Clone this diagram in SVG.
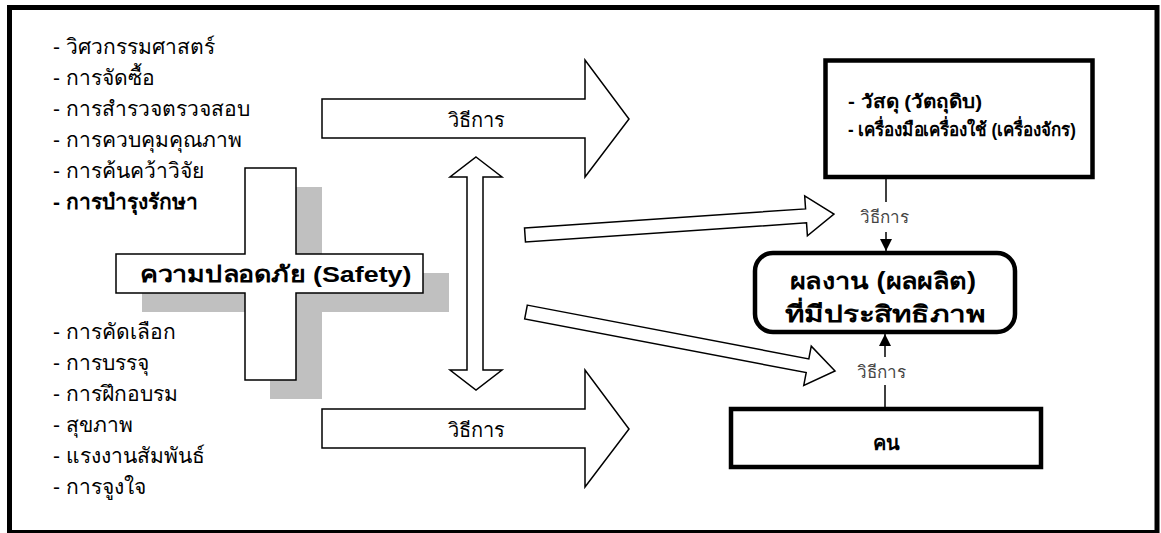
<svg xmlns="http://www.w3.org/2000/svg" width="1161" height="533" viewBox="0 0 1161 533">
<defs>
<style>
.list{font-family:"Liberation Sans","Noto Sans",sans-serif;font-size:21px;fill:#000}
.b{font-weight:bold}
.shape{fill:#fff;stroke:#000;stroke-width:1.5}
.shadow{fill:#c0c0c0;stroke:none}
.lbl{font-family:"Liberation Sans","Noto Sans",sans-serif;font-size:20px;fill:#000;text-anchor:middle}
.small{font-family:"Liberation Sans","Noto Sans",sans-serif;font-size:17px;fill:#444;text-anchor:middle}
.box{fill:#fff;stroke:#000;stroke-width:4.5}
.boxt{font-family:"Liberation Sans","Noto Sans",sans-serif;font-size:19px;font-weight:bold;fill:#000}
.big{font-family:"Liberation Sans","Noto Sans",sans-serif;font-weight:bold;fill:#000;text-anchor:middle}
.conn{stroke:#000;stroke-width:1.5;fill:none}
</style>
<marker id="ah" viewBox="0 0 12 12" refX="12" refY="6" markerWidth="12" markerHeight="12" markerUnits="userSpaceOnUse" orient="auto">
<path d="M0,0 L12,6 L0,12 Z" fill="#000"/>
</marker>
</defs>
<rect x="0" y="0" width="1161" height="533" fill="#fff"/>
<rect x="9.5" y="7.5" width="1147.5" height="525" fill="none" stroke="#000" stroke-width="5"/>

<g id="list-top" class="list">
<text x="53" y="54">- วิศวกรรมศาสตร์</text>
<text x="53" y="85">- การจัดซื้อ</text>
<text x="53" y="116">- การสำรวจตรวจสอบ</text>
<text x="53" y="147">- การควบคุมคุณภาพ</text>
<text x="53" y="178">- การค้นคว้าวิจัย</text>
<text x="53" y="209" class="b">- การบำรุงรักษา</text>
</g>
<g id="list-bottom" class="list">
<text x="53" y="339">- การคัดเลือก</text>
<text x="53" y="370">- การบรรจุ</text>
<text x="53" y="401">- การฝึกอบรม</text>
<text x="53" y="432">- สุขภาพ</text>
<text x="53" y="463">- แรงงานสัมพันธ์</text>
<text x="53" y="494">- การจูงใจ</text>
</g>

<g id="safety-cross">
<path class="shadow" d="M270,187 H322 V273 H449 V312 H322 V399 H270 V312 H142 V273 H270 Z"/>
<path class="shape" d="M245,168 H296 V254 H423 V293 H296 V380 H245 V293 H116 V254 H245 Z"/>
<text class="big" x="275.5" y="282" font-size="22" textLength="272" lengthAdjust="spacingAndGlyphs">ความปลอดภัย (Safety)</text>
</g>

<g id="arrow-top-method">
<path class="shape" d="M322,99 H585 V60 L629,119 L585,177 V138 H322 Z"/>
<text class="lbl" x="476" y="127">วิธีการ</text>
</g>
<g id="arrow-bottom-method">
<path class="shape" d="M322,409 H585 V370 L629,429 L585,487 V448 H322 Z"/>
<text class="lbl" x="476" y="437">วิธีการ</text>
</g>

<g id="double-arrow">
<path class="shape" d="M476,157 L502,177 H483 V370 H502 L476,390 L450,370 H467 V177 H450 Z"/>
</g>

<g id="thin-arrow-up">
<path class="shape" transform="translate(525,235) rotate(-3.89)" d="M0,-7 H281.7 V-20 L309.7,0 L281.7,20 V7 H0 Z"/>
</g>
<g id="thin-arrow-down">
<path class="shape" transform="translate(526,312) rotate(10.81)" d="M0,-7 H286.6 V-20 L314.6,0 L286.6,20 V7 H0 Z"/>
</g>

<g id="materials">
<rect class="box" x="825.5" y="60.5" width="267" height="116.5"/>
<text class="boxt" x="848" y="108" textLength="134" lengthAdjust="spacingAndGlyphs">- วัสดุ (วัตถุดิบ)</text>
<text class="boxt" x="848" y="136" textLength="228" lengthAdjust="spacingAndGlyphs">- เครื่องมือเครื่องใช้ (เครื่องจักร)</text>
</g>

<g id="result">
<rect x="755" y="253" width="260" height="79" rx="18" ry="18" fill="#fff" stroke="#000" stroke-width="4.5"/>
<text class="big" x="883" y="289" font-size="23" textLength="186" lengthAdjust="spacingAndGlyphs">ผลงาน (ผลผลิต)</text>
<text class="big" x="885" y="322" font-size="23" textLength="200" lengthAdjust="spacingAndGlyphs">ที่มีประสิทธิภาพ</text>
</g>

<g id="people">
<rect class="box" x="731" y="409" width="310" height="58"/>
<text class="big" x="886" y="450" font-size="20">คน</text>
</g>

<g id="connectors">
<line class="conn" x1="886" y1="179" x2="886" y2="202"/>
<line class="conn" x1="886" y1="232" x2="886" y2="251" marker-end="url(#ah)"/>
<line class="conn" x1="885" y1="407" x2="885" y2="385"/>
<line class="conn" x1="885" y1="357" x2="885" y2="334" marker-end="url(#ah)"/>
<text class="small" x="884" y="223">วิธีการ</text>
<text class="small" x="881" y="378">วิธีการ</text>
</g>
</svg>
